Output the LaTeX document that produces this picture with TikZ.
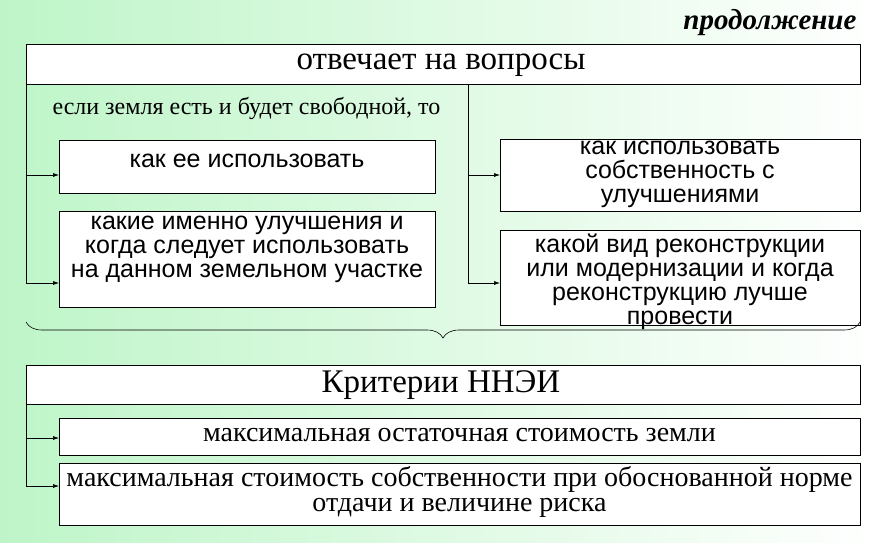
\documentclass[tikz,border=0pt]{standalone}
\usepackage{fontspec}
\setmainfont{Liberation Serif}
\newfontfamily\arialf{Liberation Sans}
\usetikzlibrary{decorations.pathreplacing,arrows.meta}
\definecolor{bggreen}{RGB}{190,245,200}
\begin{document}
\begin{tikzpicture}[x=1pt,y=-1pt,
  bx/.style={draw,fill=white,line width=0.6pt,inner sep=0pt,anchor=north west},
  af/.style={font=\arialf\fontsize{25}{24}\selectfont,align=center},
  con/.style={-{Latex[length=6pt,width=4pt]},line width=0.6pt},
  ln/.style={line width=0.6pt}]
\shade[left color=bggreen,right color=white] (0,0) rectangle (882,542);
\useasboundingbox (0,0) rectangle (882,542);
\node[font=\bfseries\itshape\fontsize{29}{30}\selectfont,anchor=east] (cont) at (860,23) {продолжение};
\node[bx,minimum width=834,minimum height=40] (top) at (26,44) {};
\node[font=\fontsize{33}{34}\selectfont] at (441,65) {отвечает на вопросы};
\node[font=\fontsize{24}{26}\selectfont,anchor=west] (if) at (49,108) {если земля есть и будет свободной, то};
\node[bx,minimum width=376,minimum height=53] (b1) at (59,140) {};
\node[af] at (247,161) {как ее использовать};
\node[bx,minimum width=376,minimum height=96] (b2) at (59,211) {};
\node[af] at (247,249) {какие именно улучшения и\\когда следует использовать\\на данном земельном участке};
\node[bx,minimum width=360,minimum height=72] (b3) at (500,139) {};
\node[af] at (680,174) {как использовать\\собственность с\\улучшениями};
\node[bx,minimum width=360,minimum height=95] (b4) at (500,230) {};
\node[af] at (680,282) {какой вид реконструкции\\или модернизации и когда\\реконструкцию лучше\\провести};
\coordinate (la) at (26,175); \coordinate (lb) at (26,283);
\coordinate (ra) at (468,84); \coordinate (rb) at (468,175); \coordinate (rc) at (468,283);
\draw[ln] (26,84) -- (lb);
\draw[con] (la) -- (la-|b1.west);
\draw[con] (lb) -- (lb-|b2.west);
\draw[ln] (ra) -- (rc);
\draw[con] (rb) -- (rb-|b3.west);
\draw[con] (rc) -- (rc-|b4.west);
\draw[ln,decorate,decoration={brace,mirror,amplitude=16pt,aspect=0.5}] (26,322) -- (860,322);
\node[bx,minimum width=834,minimum height=39] (crit) at (26,365) {};
\node[font=\fontsize{33}{34}\selectfont] at (441,385) {Критерии ННЭИ};
\node[bx,minimum width=801,minimum height=37] (c1) at (59,418) {};
\node[font=\fontsize{28}{24}\selectfont] at (459.5,435) {максимальная остаточная стоимость земли};
\node[bx,minimum width=801,minimum height=62] (c2) at (59,463) {};
\node[font=\fontsize{28}{25}\selectfont,align=center] at (459.5,492) {максимальная стоимость собственности при обоснованной норме\\отдачи и величине риска};
\coordinate (ca) at (26,438); \coordinate (cb) at (26,486);
\draw[ln] (crit.south west) -- (cb);
\draw[con] (ca) -- (ca-|c1.west);
\draw[con] (cb) -- (cb-|c2.west);
\end{tikzpicture}
\end{document}
